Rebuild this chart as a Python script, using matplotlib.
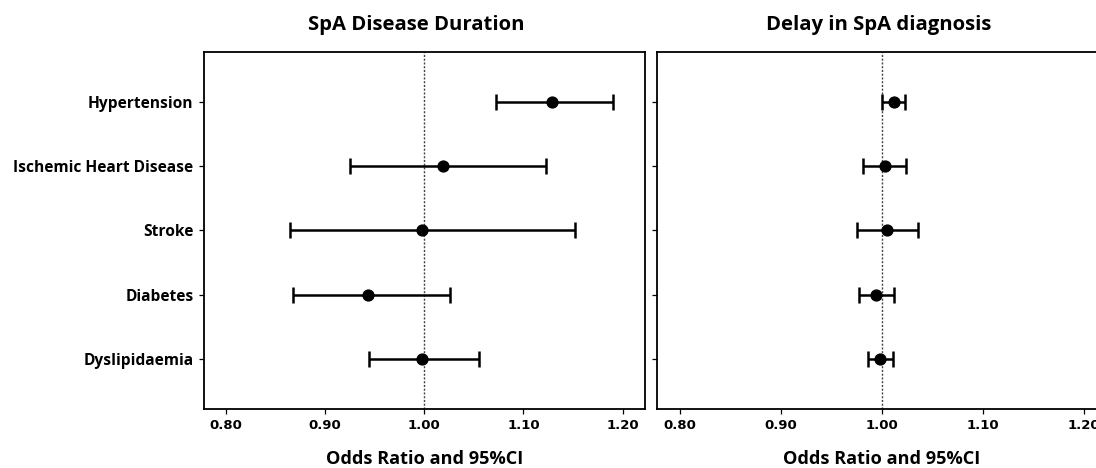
import matplotlib
matplotlib.use("Agg")
import matplotlib.pyplot as plt

categories = ["Hypertension", "Ischemic Heart Disease", "Stroke", "Diabetes", "Dyslipidaemia"]

dur_or = [1.129, 1.019, 0.998, 0.943, 0.998]
dur_lo = [1.072, 0.925, 0.865, 0.868, 0.944]
dur_hi = [1.190, 1.123, 1.152, 1.026, 1.055]

del_or = [1.0125, 1.0033, 1.0052, 0.994, 0.998]
del_lo = [1.0006, 0.9818, 0.9752, 0.9772, 0.986]
del_hi = [1.0234, 1.0244, 1.0362, 1.0125, 1.011]

xticks = [0.80, 0.90, 1.00, 1.10, 1.20]
xticklabels = ["0.80", "0.90", "1.00", "1.10", "1.20"]

titles = ["SpA Disease Duration", "Delay in SpA diagnosis"]
xlabel = "Odds Ratio and 95%CI"

plt.rcParams['font.family'] = ['Open Sans', 'DejaVu Sans']
plt.rcParams['font.weight'] = 'bold'

fig = plt.figure(figsize=(10.96, 4.68), dpi=100)
W, H = 1096, 468

def axrect(l, r, t, b):
    return [l / W, (H - b) / H, (r - l) / W, (b - t) / H]

ax1 = fig.add_axes(axrect(204, 645, 52, 409))
ax2 = fig.add_axes(axrect(656.7, 1106.4, 52, 409))

n = len(categories)
ypos = [n - 1 - i for i in range(n)]

for ax, orv, lo, hi, xl in [(ax1, dur_or, dur_lo, dur_hi, (0.778, 1.2225)),
                            (ax2, del_or, del_lo, del_hi, (0.777, 1.2225))]:
    xerr = [[o - l for o, l in zip(orv, lo)], [h - o for o, h in zip(orv, hi)]]
    ax.axvline(1.0, color='#444444', linestyle=(0, (1.5, 1.2)), linewidth=1.0, zorder=1)
    ax.errorbar(orv, ypos, xerr=xerr, fmt='o', color='black', ecolor='black',
                markersize=7.8, elinewidth=1.8, capsize=6, capthick=1.8, zorder=3)
    ax.set_xlim(*xl)
    ax.set_ylim(-0.78, n - 1 + 0.77)
    ax.set_xticks(xticks)
    ax.set_xticklabels(xticklabels, fontsize=9.5, fontweight='bold', family='DejaVu Sans')
    ax.set_yticks(ypos)
    ax.tick_params(axis='both', direction='out', length=3.5, width=0.9, pad=4)
    for s in ax.spines.values():
        s.set_linewidth(1.3)
    ax.set_xlabel(xlabel, fontsize=13.1, fontweight='bold', labelpad=12.5)

ax1.set_yticklabels(categories, fontsize=11.2, fontweight='bold', family=['Open Sans', 'DejaVu Sans'])
ax2.set_yticklabels([])

fig.text(416 / W, 1 - 25 / H, titles[0], ha='center', va='center', fontsize=14.6, fontweight='bold')
fig.text(879 / W, 1 - 25 / H, titles[1], ha='center', va='center', fontsize=14.6, fontweight='bold')

fig.savefig("out.png", dpi=100)
